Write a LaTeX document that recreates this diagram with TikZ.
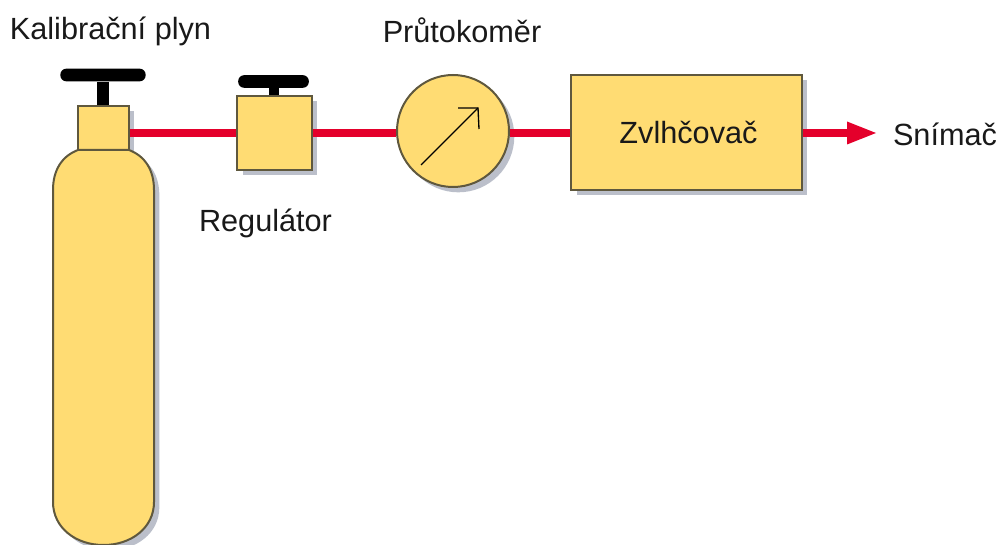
\documentclass[tikz,border=0pt]{standalone}
\usepackage{fontspec}
\setmainfont{Liberation Sans}
\usetikzlibrary{shadows}

\definecolor{zluta}{RGB}{255,220,115}
\definecolor{cervena}{RGB}{228,0,43}
\definecolor{obrys}{RGB}{95,88,62}
\definecolor{stinova}{RGB}{120,128,150}

\tikzset{
  popisek/.style={anchor=base, inner sep=0pt, text=black!90, font=\fontsize{23}{27}\selectfont},
  stin/.style={drop shadow={shadow xshift=4pt, shadow yshift=-4pt, fill=stinova, opacity=0.5}},
  dil/.style={draw=obrys, line width=1.5pt, fill=zluta, inner sep=0pt, stin},
  rukojet/.style={fill=black, rounded corners=4.5pt, inner sep=0pt},
  potrubi/.style={draw=cervena, line width=6pt},
}

\begin{document}
\begin{tikzpicture}[x=0.75pt, y=-0.75pt]
\useasboundingbox (0,0) rectangle (1000,545);

\node[dil, minimum width=38pt, minimum height=33pt] (hrdlo) at (103.5,128) {};

% lahev
\draw[dil] (78,150) .. controls (62,156) and (53,170) .. (53,190)
  -- (53,502) .. controls (53,528) and (76,545) .. (103.5,545)
  .. controls (131,545) and (154,528) .. (154,502)
  -- (154,190) .. controls (154,170) and (145,156) .. (129,150) -- cycle;

\node[dil, minimum width=56pt, minimum height=55.5pt] (regulator) at (274.5,133) {};
\node[dil, circle, minimum size=84pt] (mereni) at (453,131) {};
\node[dil, minimum width=173pt, minimum height=86pt] (zvlhcovac) at (686.5,132.5) {};

\node[rukojet, minimum width=64pt, minimum height=9.5pt] (kohout) at (103,75) {};
\node[rukojet, minimum width=53pt, minimum height=9.5pt] (sroub) at (273.5,81.5) {};
\coordinate (konec) at (876,133);

\draw[black, line width=9pt] (kohout) -- (kohout |- hrdlo.north);
\draw[black, line width=7.5pt] (sroub) -- (sroub |- regulator.north);

\draw[potrubi] (hrdlo.east |- regulator) -- (regulator);
\draw[potrubi] (regulator.east) -- (mereni.west |- regulator);
\draw[potrubi] (mereni.east |- regulator) -- (zvlhcovac.west |- regulator);
\draw[potrubi, shorten >=15pt] (zvlhcovac.east |- konec) -- (konec);
\fill[cervena] (konec) -- (847,121.5) -- (847,144.5) -- cycle;

% rucicka
\coordinate (patka) at (421,165);
\coordinate (spicka) at (478,108);
\draw[black, line width=0.9pt] (patka) -- (spicka);
\draw[black, line width=1pt] (458,108) -- (spicka) -- (479,129);

\node[popisek] (plyn) at (110.5,40) {Kalibrační plyn};
\node[popisek] (prutokomer) at (462,43) {Průtokoměr};
\node[popisek] (regulatortext) at (265.5,232) {Regulátor};
\node[popisek] (zvlhcovactext) at (688.5,144) {Zvlhčovač};
\node[popisek] (snimac) at (945,146) {Snímač};

\end{tikzpicture}
\end{document}
